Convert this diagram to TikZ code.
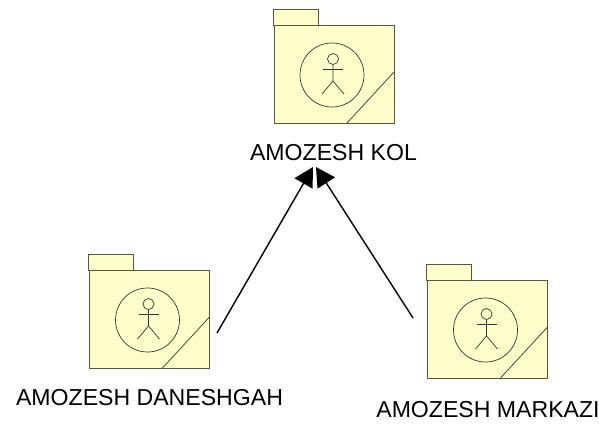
\documentclass[tikz,border=0pt]{standalone}
\usepackage{fontspec}
\setmainfont{Liberation Sans}
\usetikzlibrary{arrows.meta}
\definecolor{pkgfill}{RGB}{255,255,203}
\definecolor{pkgline}{RGB}{90,85,60}
\tikzset{
  x=1pt,y=-1pt,
  pkgshape/.style={draw=pkgline,fill=pkgfill,line width=1pt},
  thinline/.style={draw=black!80,line width=0.7pt},
  pkglabel/.style={font=\fontsize{23.1}{26}\selectfont,text=black,inner sep=0pt},
  genarrow/.style={draw=black,line width=1.4pt,-{Triangle[length=19pt,width=20.6pt,fill=black]}},
  pics/actorpkg/.style={code={
    \draw[pkgshape] (-60,-50) rectangle (-15,-66);
    \draw[pkgshape] (-59,-50) rectangle (61,48);
    \draw[thinline] (14,48) -- (61,-3);
    \draw[thinline] (-1,0) circle (32);
    \draw[thinline] (0,-16) circle (5.5);
    \draw[thinline] (-10,-6) -- (10,-6);
    \draw[thinline] (0,-10.5) -- (0,6) -- (-11,19);
    \draw[thinline] (0,6) -- (11,19);
  }}
}
\begin{document}
\begin{tikzpicture}
\useasboundingbox (0,0) rectangle (599,423);
\pic (kol) at (333,75) {actorpkg};
\pic (dan) at (148.5,320) {actorpkg};
\pic (mar) at (486.5,330) {actorpkg};
\node[pkglabel] (kollabel) at (333.5,153) {AMOZESH KOL};
\node[pkglabel] (danlabel) at (149.5,398) {AMOZESH DANESHGAH};
\node[pkglabel] (marlabel) at (488,410) {AMOZESH MARKAZI};
\coordinate (dansrc) at (217,333);
\coordinate (marsrc) at (413,318);
\coordinate (tipl) at (313,167);
\coordinate (tipr) at (316,167);
\draw[genarrow] (dansrc) -- (tipl);
\draw[genarrow] (marsrc) -- (tipr);
\end{tikzpicture}
\end{document}
